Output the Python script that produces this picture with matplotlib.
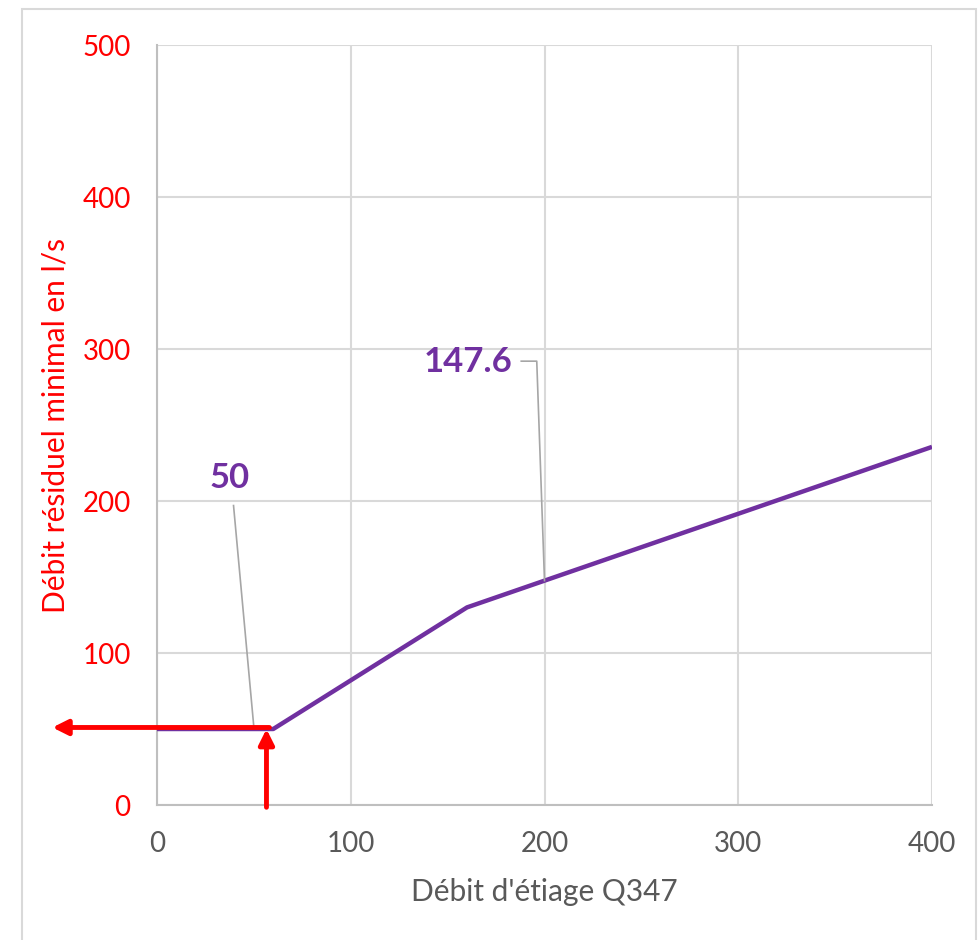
import matplotlib
matplotlib.use("Agg")
import matplotlib.pyplot as plt
from matplotlib.patches import Rectangle

# Minimum residual flow as a function of low-water discharge Q347 (l/s)
q347 = [0, 50, 60, 70, 80, 90, 100, 110, 120, 130, 140, 150, 160,
        170, 180, 190, 200, 250, 300, 350, 400]
residual = [50, 50, 50, 58, 66, 74, 82, 90, 98, 106, 114, 122, 130,
            134.4, 138.8, 143.2, 147.6, 169.6, 191.6, 213.6, 235.6]

# Labelled points
label_x = [50, 200]
label_y = [50, 147.6]
label_txt = ["50", "147.6"]

# Reading example shown with red arrows
read_q = 56.5
read_val = 51

x_ticks = [0, 100, 200, 300, 400]
y_ticks = [0, 100, 200, 300, 400, 500]

FONT = ["Lato", "DejaVu Sans"]
PURPLE = "#7030A0"
RED = "#FF0000"
GRID = "#D9D9D9"

plt.rcParams["font.family"] = FONT

fig = plt.figure(figsize=(9.79, 9.40), dpi=100)
fig.patches.append(Rectangle((22 / 979, -0.05), (976 - 22) / 979, 1.05 - 9 / 940,
                             transform=fig.transFigure, fill=False,
                             edgecolor="#D9D9D9", linewidth=1.5))

ax = fig.add_axes([157 / 979, 1 - 805 / 940, (932 - 157) / 979, (805 - 45) / 940])
ax.set_xlim(0, 400)
ax.set_ylim(0, 500)
ax.set_xticks(x_ticks)
ax.set_yticks(y_ticks)
ax.grid(True, color=GRID, linewidth=1.5)
ax.set_axisbelow(True)
for side in ["top", "right"]:
    ax.spines[side].set_visible(False)
for side in ["left", "bottom"]:
    ax.spines[side].set_color("#BFBFBF")
    ax.spines[side].set_linewidth(1.5)
ax.tick_params(length=0)
ax.tick_params(axis="x", colors="#595959", labelsize=20, pad=18.5)
ax.tick_params(axis="y", colors=RED, labelsize=20, pad=19)
for lbl in ax.get_yticklabels():
    lbl.set_color(RED)

ax.plot(q347, residual, color=PURPLE, linewidth=3.2,
        solid_joinstyle="round", solid_capstyle="butt", zorder=3)

# Data labels with leader lines
ax.text(37.7, 215, label_txt[0], color=PURPLE, fontsize=25, fontweight="bold",
        ha="center", va="center", zorder=5)
ax.text(183.5, 291.5, label_txt[1], color=PURPLE, fontsize=25, fontweight="bold",
        ha="right", va="center", zorder=5)
ax.plot([39.5, label_x[0]], [197, label_y[0] + 1], color="#A6A6A6", linewidth=1.2, zorder=4)
ax.plot([188, 196, label_x[1]], [292, 292, label_y[1]], color="#A6A6A6", linewidth=1.2, zorder=4)

# Red reading arrows
arrow = "-|>,head_length=0.9,head_width=0.45"
ax.annotate("", xy=(read_q, read_val - 1), xytext=(read_q, -1.5),
            arrowprops=dict(arrowstyle=arrow, color=RED, lw=3.5, shrinkA=0, shrinkB=0),
            annotation_clip=False, zorder=6)
ax.annotate("", xy=(-54, read_val), xytext=(read_q + 1.5, read_val),
            arrowprops=dict(arrowstyle=arrow, color=RED, lw=3.5, shrinkA=0, shrinkB=0),
            annotation_clip=False, zorder=6)

ax.set_xlabel("Débit d'étiage Q347", color="#595959", fontsize=21.5, labelpad=15)
ax.set_ylabel("Débit résiduel minimal en l/s", color=RED, fontsize=21.5, labelpad=9)

fig.savefig("out.png", dpi=100)
